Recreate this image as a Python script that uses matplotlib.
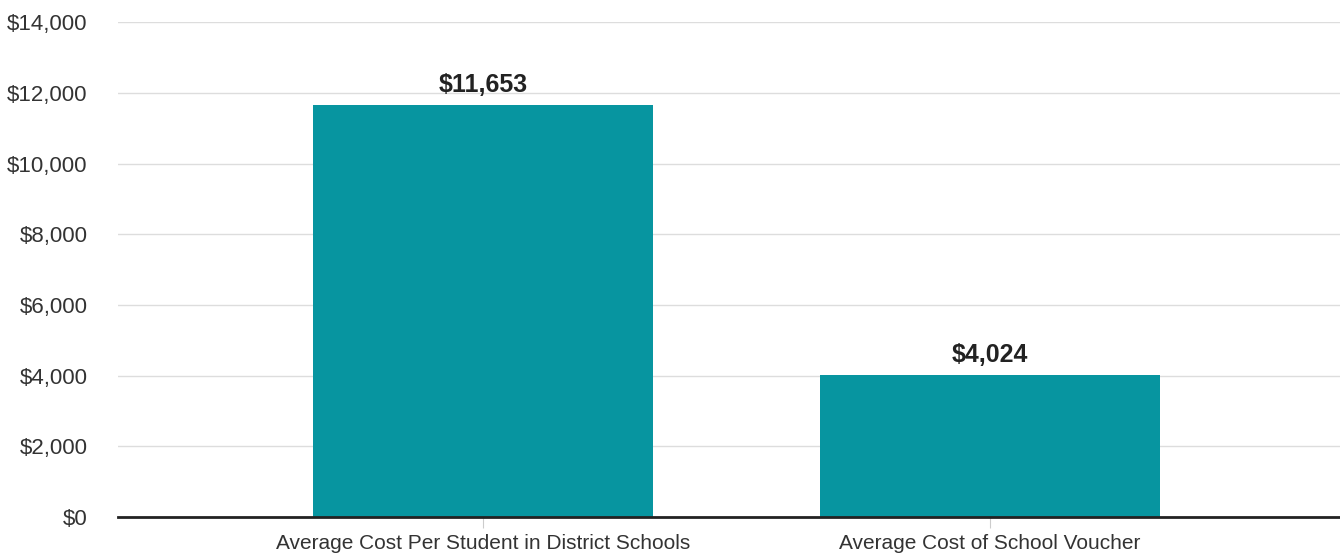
import matplotlib
matplotlib.use("Agg")
import matplotlib.pyplot as plt
from matplotlib.ticker import FuncFormatter

categories = ["Average Cost Per Student in District Schools", "Average Cost of School Voucher"]
values = [11653, 4024]
value_labels = ["$11,653", "$4,024"]
yticks = [0, 2000, 4000, 6000, 8000, 10000, 12000, 14000]

plt.rcParams['font.family'] = ['Liberation Sans', 'DejaVu Sans']

fig = plt.figure(figsize=(13.4, 5.56), dpi=100)
ax = fig.add_axes([0.088, 0.070, 0.912, 0.890])

x = [0, 1]
ax.bar(x, values, width=0.67, color="#0795A0", zorder=3)
for xi, v, lab in zip(x, values, value_labels):
    ax.text(xi, v + 230, lab, ha="center", va="bottom", fontsize=18, fontweight="bold",
            color="#222222", zorder=4)

ax.set_xlim(-0.72, 1.69)
ax.set_ylim(0, 14000)
ax.set_yticks(yticks)
ax.yaxis.set_major_formatter(FuncFormatter(lambda v, p: "${:,.0f}".format(v)))
ax.set_xticks(x)
ax.set_xticklabels(categories)
ax.grid(axis="y", color="#dddddd", linewidth=1, zorder=0)
for s in ["top", "right", "left"]:
    ax.spines[s].set_visible(False)
ax.spines["bottom"].set_color("#222222")
ax.spines["bottom"].set_linewidth(2)
ax.spines["bottom"].set_zorder(5)
ax.tick_params(axis="y", length=0, pad=22, labelsize=16, labelcolor="#333333")
ax.tick_params(axis="x", length=8, color="#cccccc", pad=4, labelsize=15, labelcolor="#333333")

fig.savefig("out.png", dpi=100)
